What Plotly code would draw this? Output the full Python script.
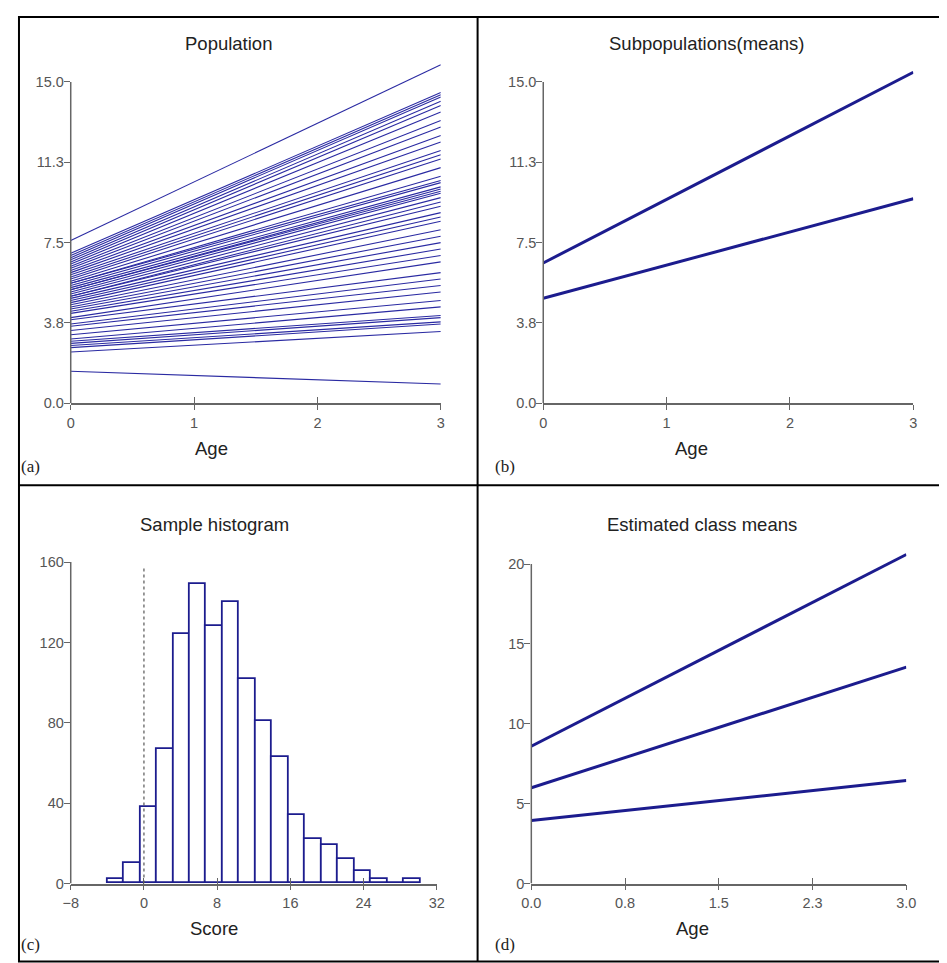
import plotly.graph_objects as go

W, H = 947, 963
# measured mapping of figure pixels to screenshot pixels: o = A + B * f
AX, BX = 15.0, 0.984
AY, BY = 14.0, 0.985

# ---------------- data ----------------
age = [0, 3]
pop_start = [7.6, 7.0, 6.9, 6.8, 6.7, 6.6, 6.5, 6.4, 6.3, 6.2, 6.1, 6.0, 5.9, 5.8, 5.7,
             5.6, 5.6, 5.5, 5.4, 5.3, 5.3, 5.2, 5.1, 5.0, 5.0, 4.9, 4.8, 4.7, 4.6, 4.5,
             4.4, 4.3, 4.2, 4.0, 3.9, 3.7, 3.6, 3.4, 3.2, 3.0, 2.9, 2.8, 2.7, 2.6, 2.4, 1.5]
pop_end = [15.8, 14.5, 14.4, 14.3, 14.1, 13.9, 13.6, 13.2, 12.9, 12.5, 12.2, 11.8, 11.6, 11.4, 11.0,
           10.6, 10.4, 10.3, 10.1, 10.0, 9.9, 9.8, 9.6, 9.4, 9.2, 8.9, 8.7, 8.5, 8.1, 7.8,
           7.5, 7.2, 6.9, 6.6, 6.1, 5.8, 5.5, 5.2, 4.8, 4.5, 4.1, 4.0, 3.8, 3.7, 3.35, 0.9]

sub_start = [6.55, 4.9]
sub_end = [15.45, 9.55]

hist_left = [-4.0, -2.2, -0.4, 1.4, 3.2, 5.0, 6.8, 8.6, 10.4, 12.2, 14.0, 15.8, 17.6,
             19.4, 21.2, 23.0, 24.8, 26.6, 28.4]
hist_count = [2, 10, 38, 67, 124, 149, 128, 140, 102, 81, 63, 34, 22, 19, 12, 6, 2, 0, 2]
bin_width = 1.8

est_start = [8.6, 6.0, 3.95]
est_end = [20.6, 13.55, 6.45]

ab_yticks = [0, 3.75, 7.5, 11.25, 15]
ab_yticktext = ["0.0", "3.8", "7.5", "11.3", "15.0"]
ab_xticks = [0, 1, 2, 3]
c_xticks = [-8, 0, 8, 16, 24, 32]
c_yticks = [0, 40, 80, 120, 160]
d_xticks = [0, 0.75, 1.5, 2.25, 3.0]
d_xticktext = ["0.0", "0.8", "1.5", "2.3", "3.0"]
d_yticks = [0, 5, 10, 15, 20]

# ---------------- styling ----------------
THIN = "#2A2AA2"
THICK = "#1C1C8E"
AXC = "#666666"
TICKFONT = dict(family="Liberation Sans, Arial", size=14.5, color="#555555")


def fx(o):
    f = max((o - AX) / BX, 1)
    return f / W


def fy(o):
    f = max((o - AY) / BY, 1)
    return 1 - f / H


def xdom(a, b):
    return [fx(a), fx(b)]


def ydom(top, bottom):
    return [fy(bottom), fy(top)]


def yrange_for(v0, v1, top_px, bot_px, ext_top_px):
    per_px = (v1 - v0) / (bot_px - top_px)
    return [v0, v1 + per_px * (top_px - ext_top_px)]


def xaxis(domain, rng, tickvals, ticktext=None, anchor=None):
    d = dict(domain=domain, range=rng, tickvals=tickvals, showgrid=False, zeroline=False,
             showline=True, linecolor=AXC, linewidth=1.5, ticks="outside", ticklen=5,
             tickcolor=AXC, tickwidth=1.2, tickfont=TICKFONT, anchor=anchor, fixedrange=True)
    if ticktext is not None:
        d["ticktext"] = ticktext
    return d


def xaxis_in(base, rng, tickvals, anchor):
    return dict(overlaying=base, range=rng, tickvals=tickvals, showgrid=False, zeroline=False,
                showline=False, ticks="inside", ticklen=6, tickcolor=AXC, tickwidth=1.2,
                showticklabels=False, anchor=anchor, fixedrange=True)


def yaxis(domain, rng, tickvals, ticktext=None, anchor=None):
    d = dict(domain=domain, range=rng, tickvals=tickvals, showgrid=False, zeroline=False,
             showline=False, ticks="outside", ticklen=6, ticklabelstandoff=-3,
             tickcolor=AXC, tickwidth=1.2, tickfont=TICKFONT, anchor=anchor, fixedrange=True)
    if ticktext is not None:
        d["ticktext"] = ticktext
    return d


fig = go.Figure()

# (a) population lines
for s, e in zip(pop_start, pop_end):
    fig.add_trace(go.Scatter(x=age, y=[s, e], mode="lines", line=dict(color=THIN, width=1.1),
                             xaxis="x", yaxis="y", showlegend=False, hoverinfo="skip"))

# (b) subpopulation means
for s, e in zip(sub_start, sub_end):
    fig.add_trace(go.Scatter(x=age, y=[s, e], mode="lines", line=dict(color=THICK, width=3),
                             xaxis="x2", yaxis="y2", showlegend=False))

# (c) histogram
centers = [l + bin_width / 2 for l in hist_left]
fig.add_trace(go.Bar(x=centers, y=hist_count, width=bin_width,
                     marker=dict(color="white", line=dict(color=THICK, width=1.8)),
                     xaxis="x3", yaxis="y3", showlegend=False))

# (d) estimated class means
for s, e in zip(est_start, est_end):
    fig.add_trace(go.Scatter(x=age, y=[s, e], mode="lines", line=dict(color=THICK, width=3),
                             xaxis="x4", yaxis="y4", showlegend=False))

# invisible traces so that overlay tick axes are drawn
for xa, ya, xr, yr in [("x5", "y", [0, 3], [0, 15]), ("x6", "y2", [0, 3], [0, 15]),
                       ("x7", "y3", [-8, 32], [0, 160]), ("x8", "y4", [0, 3], [0, 20])]:
    fig.add_trace(go.Scatter(x=xr, y=yr, mode="markers", marker=dict(opacity=0),
                             xaxis=xa, yaxis=ya, showlegend=False, hoverinfo="skip"))

ab_yr = yrange_for(0, 15, 80, 402, 55)
d_yr = yrange_for(0, 20, 563, 883, 540)

fig.update_layout(
    width=W, height=H, margin=dict(l=0, r=0, t=0, b=0),
    paper_bgcolor="white", plot_bgcolor="white",
    xaxis=xaxis(xdom(68, 440), [0, 3], ab_xticks, anchor="y"),
    yaxis=yaxis(ydom(55, 402), ab_yr, ab_yticks, ab_yticktext, anchor="x"),
    xaxis2=xaxis(xdom(543, 915), [0, 3], ab_xticks, anchor="y2"),
    yaxis2=yaxis(ydom(55, 402), ab_yr, ab_yticks, ab_yticktext, anchor="x2"),
    xaxis3=xaxis(xdom(68, 436), [-8, 32], c_xticks, anchor="y3"),
    yaxis3=yaxis(ydom(561, 883), [0, 160], c_yticks, anchor="x3"),
    xaxis4=xaxis(xdom(531, 908), [0, 3], d_xticks, d_xticktext, anchor="y4"),
    yaxis4=yaxis(ydom(540, 883), d_yr, d_yticks, anchor="x4"),
    xaxis5=xaxis_in("x", [0, 3], ab_xticks, "y"),
    xaxis6=xaxis_in("x2", [0, 3], ab_xticks, "y2"),
    xaxis7=xaxis_in("x3", [-8, 32], c_xticks, "y3"),
    xaxis8=xaxis_in("x4", [0, 3], d_xticks, "y4"),
    bargap=0,
)

# y axis lines (drawn only over the labelled range)
for xr, yr, top in [("x", "y", 15), ("x2", "y2", 15), ("x3", "y3", 160), ("x4", "y4", 20)]:
    fig.add_shape(type="line", xref=xr + " domain", yref=yr, x0=0, x1=0, y0=0, y1=top,
                  line=dict(color=AXC, width=1.5))

# dotted reference line at 0 in histogram
fig.add_shape(type="line", xref="x3", yref="y3", x0=0, x1=0, y0=0, y1=158,
              line=dict(color="#555555", width=1.2, dash="dot"))

# panel borders
BL = dict(color="black", width=2)
fig.add_shape(type="rect", xref="paper", yref="paper", x0=fx(7), x1=fx(945),
              y0=fy(961), y1=fy(5), line=BL)
fig.add_shape(type="line", xref="paper", yref="paper", x0=fx(477), x1=fx(477),
              y0=fy(961), y1=fy(5), line=BL)
fig.add_shape(type="line", xref="paper", yref="paper", x0=fx(7), x1=fx(945),
              y0=fy(484), y1=fy(484), line=BL)

TFONT = dict(family="Liberation Sans, Arial", size=18.5, color="#222222")
LFONT = dict(family="Liberation Serif, Times New Roman", size=17, color="#222222")


def text(x, y, s, font, xanchor="center"):
    fig.add_annotation(x=fx(x), y=fy(y), xref="paper", yref="paper", text=s,
                       showarrow=False, font=font, xanchor=xanchor, yanchor="middle")


text(227, 42, "Population", TFONT)
text(707, 42, "Subpopulations(means)", TFONT)
text(213, 523, "Sample histogram", TFONT)
text(703, 523, "Estimated class means", TFONT)
text(210, 447, "Age", TFONT)
text(692, 447, "Age", TFONT)
text(212, 928, "Score", TFONT)
text(693, 928, "Age", TFONT)
text(12, 465, "(a)", LFONT, "left")
text(492, 465, "(b)", LFONT, "left")
text(12, 944, "(c)", LFONT, "left")
text(492, 944, "(d)", LFONT, "left")

fig.write_html("out.html")
